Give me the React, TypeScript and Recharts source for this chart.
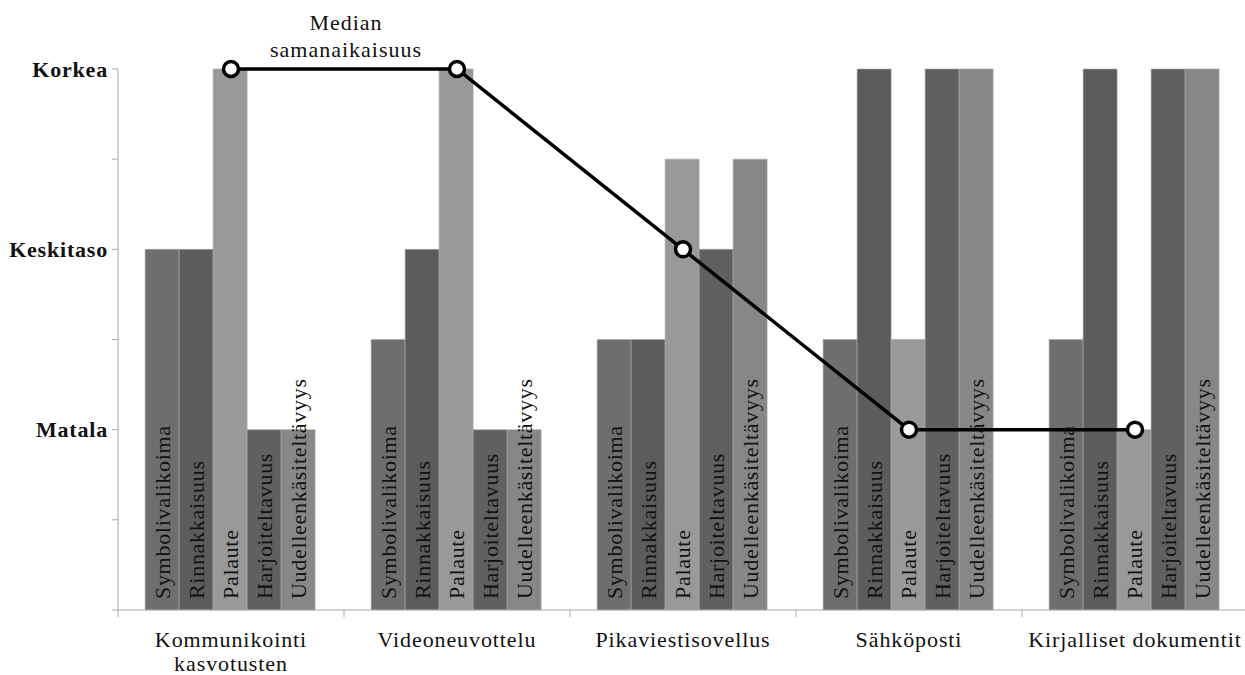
import React from "react"
import {
  ComposedChart,
  Bar,
  Line,
  XAxis,
  YAxis,
  LabelList,
} from "recharts"

const CATEGORIES = [
  "Kommunikointi\nkasvotusten",
  "Videoneuvottelu",
  "Pikaviestisovellus",
  "Sähköposti",
  "Kirjalliset dokumentit",
]
const SYMBOLIVALIKOIMA = [4, 3, 3, 3, 3]
const RINNAKKAISUUS = [4, 4, 3, 6, 6]
const PALAUTE = [6, 6, 5, 3, 2]
const HARJOITELTAVUUS = [2, 2, 4, 6, 6]
const UUDELLEENKASITELTAVYYS = [2, 2, 5, 6, 6]
const MEDIAN = [6, 6, 4, 2, 2]

const Y_TICKS = [0, 1, 2, 3, 4, 5, 6]
const LEVEL_NAMES = ["", "", "Matala", "", "Keskitaso", "", "Korkea"]

const SERIES = [
  { key: "symb", name: "Symbolivalikoima", values: SYMBOLIVALIKOIMA, color: "#6e6e6e" },
  { key: "rinn", name: "Rinnakkaisuus", values: RINNAKKAISUUS, color: "#5c5c5c" },
  { key: "pal", name: "Palaute", values: PALAUTE, color: "#999999" },
  { key: "harj", name: "Harjoiteltavuus", values: HARJOITELTAVUUS, color: "#606060" },
  { key: "uud", name: "Uudelleenkäsiteltävyys", values: UUDELLEENKASITELTAVYYS, color: "#878787" },
]

const data = CATEGORIES.map((c, i) => {
  const row: any = { name: c, median: MEDIAN[i] }
  SERIES.forEach((s) => (row[s.key] = s.values[i]))
  return row
})

const FONT = "'Liberation Serif', 'Times New Roman', serif"
const AXIS = "#a9a9a9"

function barLabel(text: string) {
  return (props: any) => {
    const { x, y, width, height } = props
    const cx = Number(x) + Number(width) / 2
    const by = Number(y) + Number(height) - 11
    return (
      <text
        x={cx}
        y={by}
        transform={`rotate(-90, ${cx}, ${by})`}
        textAnchor="start"
        dominantBaseline="central"
        fontFamily={FONT}
        fontSize={22}
        letterSpacing={0.7}
        fill="#111"
      >
        {text}
      </text>
    )
  }
}

function YTick(props: any) {
  const { x, y, payload } = props
  const label = LEVEL_NAMES[payload.value]
  if (!label) return <g />
  return (
    <text
      x={x - 2}
      y={y}
      textAnchor="end"
      dominantBaseline="central"
      fontFamily={FONT}
      fontWeight="bold"
      fontSize={22}
      letterSpacing={0.8}
      fill="#111"
    >
      {label}
    </text>
  )
}

function XTick(props: any) {
  const { x, y, payload } = props
  const half = payload.offset ?? 113
  const lines = String(payload.value).split("\n")
  return (
    <g>
      <line x1={x - half} x2={x - half} y1={y - 8} y2={y - 1} stroke={AXIS} strokeWidth={1} />
      {lines.map((l, i) => (
        <text
          key={i}
          x={x}
          y={y + 29 + i * 24}
          textAnchor="middle"
          fontFamily={FONT}
          fontSize={22}
          letterSpacing={0.9}
          fill="#111"
        >
          {l}
        </text>
      ))}
    </g>
  )
}

export default function App() {
  return (
    <div
      style={{
        position: "absolute",
        left: 0,
        top: 0,
        width: 1245,
        height: 675,
        overflow: "hidden",
        background: "#fff",
      }}
    >
      <div
        style={{
          position: "absolute",
          left: 246,
          width: 200,
          top: 9,
          textAlign: "center",
          fontFamily: FONT,
          fontSize: 22,
          letterSpacing: 1,
          lineHeight: "27px",
          color: "#111",
        }}
      >
        Median
        <br />
        samanaikaisuus
      </div>
      <ComposedChart
        width={1250}
        height={675}
        data={data}
        margin={{ top: 69, right: 2, bottom: 0, left: 0 }}
        barCategoryGap="12%"
        barGap={0}
      >
        <XAxis
          dataKey="name"
          height={65}
          stroke={AXIS}
          tickLine={false}
          tick={<XTick />}
          interval={0}
        />
        <YAxis
          width={118}
          domain={[0, 6]}
          ticks={Y_TICKS}
          stroke={AXIS}
          tickSize={6}
          tick={<YTick />}
          interval={0}
        />
        {SERIES.map((s) => (
          <Bar
            key={s.key}
            dataKey={s.key}
            fill={s.color}
            stroke="#a8a8a8"
            strokeWidth={0.6}
            isAnimationActive={false}
          >
            <LabelList dataKey={s.key} content={barLabel(s.name)} />
          </Bar>
        ))}
        <Line
          type="linear"
          dataKey="median"
          stroke="#000"
          strokeWidth={3.5}
          dot={{ r: 7.5, fill: "#fff", stroke: "#000", strokeWidth: 3.5 }}
          isAnimationActive={false}
        />
      </ComposedChart>
    </div>
  )
}
